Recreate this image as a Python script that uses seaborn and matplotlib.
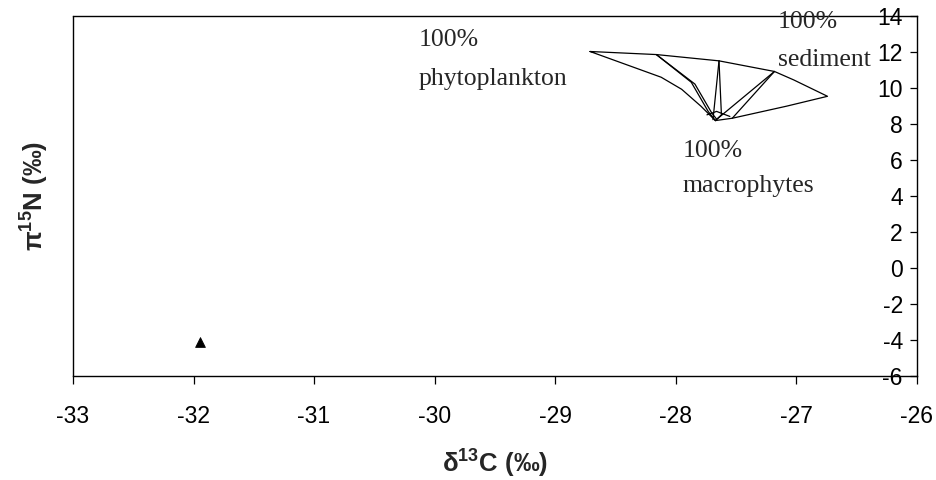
import matplotlib
matplotlib.use("Agg")
import matplotlib.pyplot as plt
import seaborn as sns
import pandas as pd

# Mixing-model polygon: outline of the three-source mixing space (d13C, d15N)
outline_x = [-28.71, -28.16, -27.64, -27.18, -27.02, -26.74, -27.08, -27.53, -27.67,
             -27.79, -27.95, -28.12, -28.71]
outline_y = [12.01, 11.84, 11.49, 10.90, 10.43, 9.52, 8.97, 8.30, 8.17,
             8.97, 9.91, 10.58, 12.01]

# Internal mixing lines towards the macrophyte end-member
inner_a1_x = [-28.16, -27.87, -27.73, -27.67]
inner_a1_y = [11.84, 10.30, 8.68, 8.17]
inner_a2_x = [-28.16, -27.84, -27.70, -27.66]
inner_a2_y = [11.84, 10.20, 8.59, 8.25]
inner_b1_x = [-27.64, -27.69]
inner_b1_y = [11.49, 8.22]
inner_b2_x = [-27.64, -27.62, -27.67]
inner_b2_y = [11.49, 8.49, 8.17]
inner_c1_x = [-27.18, -27.63, -27.67]
inner_c1_y = [10.90, 8.40, 8.17]
inner_c2_x = [-27.18, -27.53]
inner_c2_y = [10.90, 8.30]
inner_arc_x = [-27.74, -27.66, -27.55]
inner_arc_y = [8.49, 8.68, 8.40]

# Consumer sample
sample_x = [-31.95]
sample_y = [-4.11]

x_ticks = [-33, -32, -31, -30, -29, -28, -27, -26]
y_ticks = [-6, -4, -2, 0, 2, 4, 6, 8, 10, 12, 14]

# End-member labels: (line 1, line 2, x, baseline y of line 1, baseline y of line 2)
source_labels = [
    ("100%", "phytoplankton", -30.13, 12.32, 10.15),
    ("100%", "sediment", -27.15, 13.32, 11.20),
    ("100%", "macrophytes", -27.94, 6.16, 4.22),
]

segments = {
    "outline": (outline_x, outline_y),
    "a1": (inner_a1_x, inner_a1_y),
    "a2": (inner_a2_x, inner_a2_y),
    "b1": (inner_b1_x, inner_b1_y),
    "b2": (inner_b2_x, inner_b2_y),
    "c1": (inner_c1_x, inner_c1_y),
    "c2": (inner_c2_x, inner_c2_y),
    "arc": (inner_arc_x, inner_arc_y),
}
lines_df = pd.concat(
    [pd.DataFrame({"d13C": xs, "d15N": ys, "line": name})
     for name, (xs, ys) in segments.items()],
    ignore_index=True,
)
sample_df = pd.DataFrame({"d13C": sample_x, "d15N": sample_y})

sns.set_theme(style="white")
plt.rcParams["font.family"] = ["Liberation Sans", "DejaVu Sans"]
plt.rcParams["mathtext.fontset"] = "custom"
plt.rcParams["mathtext.rm"] = "Liberation Sans"
plt.rcParams["mathtext.bf"] = "Liberation Sans:bold"

fig = plt.figure(figsize=(9.37, 4.8), dpi=100)
ax = fig.add_axes([0.0779, 0.2177, 0.9004, 0.7496])

sns.lineplot(data=lines_df, x="d13C", y="d15N", units="line", estimator=None,
             sort=False, color="black", linewidth=0.9, ax=ax, legend=False)
sns.scatterplot(data=sample_df, x="d13C", y="d15N", marker="^", color="black",
                s=50, edgecolor="black", ax=ax, legend=False, zorder=5)

ax.set_xlim(-33, -26)
ax.set_ylim(-6, 14)
ax.set_xticks(x_ticks)
ax.set_yticks(y_ticks)
ax.set_xticklabels([str(v) for v in x_ticks])
ax.set_yticklabels([str(v) for v in y_ticks])

# Vertical axis crosses at the right-hand end of the d13C range
ax.spines["left"].set_position(("data", -26))
ax.spines["right"].set_visible(False)
for side in ["left", "top", "bottom"]:
    ax.spines[side].set_color("black")
    ax.spines[side].set_linewidth(1.0)
ax.plot([-33, -33], [-6, 14], color="black", linewidth=1.0, clip_on=False)

ax.tick_params(axis="y", direction="out", length=5, width=0.9, colors="black",
               labelsize=16.5, pad=5, left=True, right=False)
ax.tick_params(axis="x", direction="out", length=6, width=0.9, colors="black",
               labelsize=16.5, pad=15, bottom=True, top=False)

ax.set_xlabel("δ$^{\\mathbf{13}}$C (‰)", fontsize=18.5, fontweight="bold")
ax.set_ylabel("π$^{\\mathbf{15}}$N (‰)", fontsize=18.5, fontweight="bold")
ax.xaxis.set_label_coords(0.5, -0.195)
ax.yaxis.set_label_coords(-0.027, 0.5)

serif = ["Liberation Serif", "DejaVu Serif"]
for first, second, lx, y1, y2 in source_labels:
    ax.text(lx, y1, first, family=serif, fontsize=18.5, va="baseline", ha="left")
    ax.text(lx, y2, second, family=serif, fontsize=18.5, va="baseline", ha="left")

ax.set_facecolor("white")
fig.patch.set_facecolor("white")
fig.savefig("out.png", dpi=100)
